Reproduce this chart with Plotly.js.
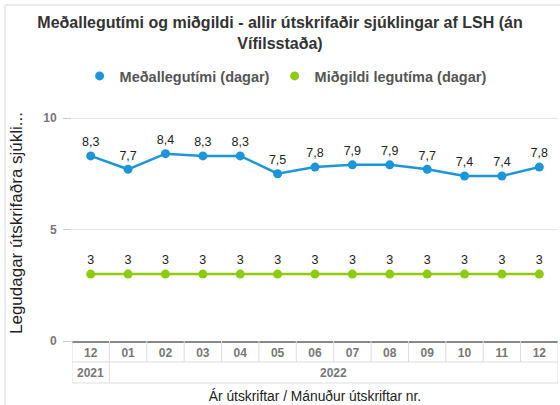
<!DOCTYPE html>
<html>
<head>
<meta charset="utf-8">
<script src="https://cdn.plot.ly/plotly-3.0.1.min.js"></script>
<style>html,body{margin:0;padding:0;background:#fff;}#chart{width:560px;height:405px;}</style>
</head>
<body>
<div id="chart"></div>
<script>
const categories = ["2021-12","2022-01","2022-02","2022-03","2022-04","2022-05","2022-06","2022-07","2022-08","2022-09","2022-10","2022-11","2022-12"];
const monthLabels = ["12","01","02","03","04","05","06","07","08","09","10","11","12"];
const yearLabels = ["2021","2022"];
const yearSpans = [[0,0],[1,12]];
const meanStay = [8.3,7.7,8.4,8.3,8.3,7.5,7.8,7.9,7.9,7.7,7.4,7.4,7.8];
const medianStay = [3,3,3,3,3,3,3,3,3,3,3,3,3];

const idx = categories.map((c,i)=>i);
const blue = "#1b96d8", green = "#8ecb10";
const lblFont = {family:"Liberation Sans, Arial", size:12.5, color:"#222"};

const traces = [
  {x: idx, y: meanStay, type: "scatter", mode: "lines", showlegend:false,
   line:{color: blue, width: 2.5}, hoverinfo:"skip"},
  {x: idx, y: medianStay, type: "scatter", mode: "lines", showlegend:false,
   line:{color: green, width: 2.5}, hoverinfo:"skip"},
  {x: idx, y: meanStay, name: "Meðallegutími (dagar)", type: "scatter", mode: "markers+text",
   marker:{color: blue, size: 9},
   texttemplate: "%{y:.1f}", textposition: "top center", textfont: lblFont, cliponaxis:false},
  {x: idx, y: medianStay, name: "Miðgildi legutíma (dagar)", type: "scatter", mode: "markers+text",
   marker:{color: green, size: 9},
   texttemplate: "%{y}", textposition: "top center", textfont: lblFont, cliponaxis:false}
];

const H = 236; // plot height in px
const py = p => (341 - p) / H; // pixel y to paper
const W = 486;
const px = p => (p - 72) / W;
const gridc = "#dddddd";
const shapes = [];
// outer frame
shapes.push({type:"line", xref:"paper", yref:"paper", x0:px(5), x1:px(600), y0:py(5), y1:py(5), line:{color:"#d9d9d9", width:1}});
shapes.push({type:"line", xref:"paper", yref:"paper", x0:px(5), x1:px(5), y0:py(5), y1:py(420), line:{color:"#d9d9d9", width:1}});
// table horizontal lines
[362, 383].forEach(p => shapes.push({type:"line", xref:"x", yref:"paper", x0:-0.5, x1:categories.length-0.5, y0:py(p), y1:py(p), line:{color:gridc, width:1}}));
// month row verticals
for (let i=0;i<=categories.length;i++){
  shapes.push({type:"line", xref:"x", yref:"paper", x0:i-0.5, x1:i-0.5, y0:py(341), y1:py(362), line:{color:gridc, width:1}});
}
// year row verticals
const yb = new Set();
yearSpans.forEach(s=>{yb.add(s[0]-0.5); yb.add(s[1]+0.5);});
yb.forEach(v => shapes.push({type:"line", xref:"x", yref:"paper", x0:v, x1:v, y0:py(362), y1:py(383), line:{color:gridc, width:1}}));

const annotations = yearLabels.map((t,i)=>({
  text: t, x: (yearSpans[i][0]+yearSpans[i][1])/2, xref:"x", y: py(373), yref:"paper",
  showarrow:false, xanchor:"center", yanchor:"middle",
  font:{family:"Liberation Sans, Arial", size:12, color:"#777", weight:"bold"}
}));

const layout = {
  width:560, height:405,
  margin:{l:72, r:2, t:105, b:64, autoexpand:false},
  paper_bgcolor:"#fff", plot_bgcolor:"#fff",
  separators: ",.",
  font:{family:"Liberation Sans, Arial, sans-serif"},
  title:{text:"<b>Meðallegutími og miðgildi - allir útskrifaðir sjúklingar af LSH (án<br>Vífilsstaða)</b>",
    x:0.5, xref:"container", xanchor:"center", y:1-28/405, yref:"container", yanchor:"middle",
    font:{family:"Liberation Sans, Arial", size:16, color:"#333"}},
  showlegend:true,
  legend:{orientation:"h", x:0.51, xref:"container", xanchor:"center", y:1-76/405, yref:"container", yanchor:"middle",
    font:{family:"Liberation Sans, Arial", size:14.5, color:"#555", weight:"bold"}, itemwidth:30, traceorder:"normal"},
  xaxis:{type:"linear", range:[-0.5, categories.length-0.5], tickvals: idx, ticktext: monthLabels,
    showgrid:false, zeroline:false, showline:true, linecolor:"#888", linewidth:1.5, ticks:"",
    tickfont:{family:"Liberation Sans, Arial", size:12, color:"#777", weight:"bold"},
    title:{text:"Ár útskriftar / Mánuður útskriftar nr.", standoff:32, font:{family:"Liberation Sans, Arial", size:13.8, color:"#222"}},
    fixedrange:true},
  yaxis:{range:[0, H/22.3], tickvals:[0,5,10], ticktext:["0","5","10"],
    showgrid:true, gridcolor:"#e6e6e6", zeroline:false, showline:false,
    ticks:"outside", ticklen:8, tickcolor:"#cccccc", ticklabelstandoff:4,
    tickfont:{family:"Liberation Sans, Arial", size:12, color:"#777", weight:"bold"},
    title:{text:"Legudagar útskrifaðra sjúkli...", standoff:16, font:{family:"Liberation Sans, Arial", size:17, color:"#222"}},
    fixedrange:true},
  shapes: shapes,
  annotations: annotations
};
Plotly.newPlot("chart", traces, layout, {displayModeBar:false, staticPlot:true});
</script>
</body>
</html>
